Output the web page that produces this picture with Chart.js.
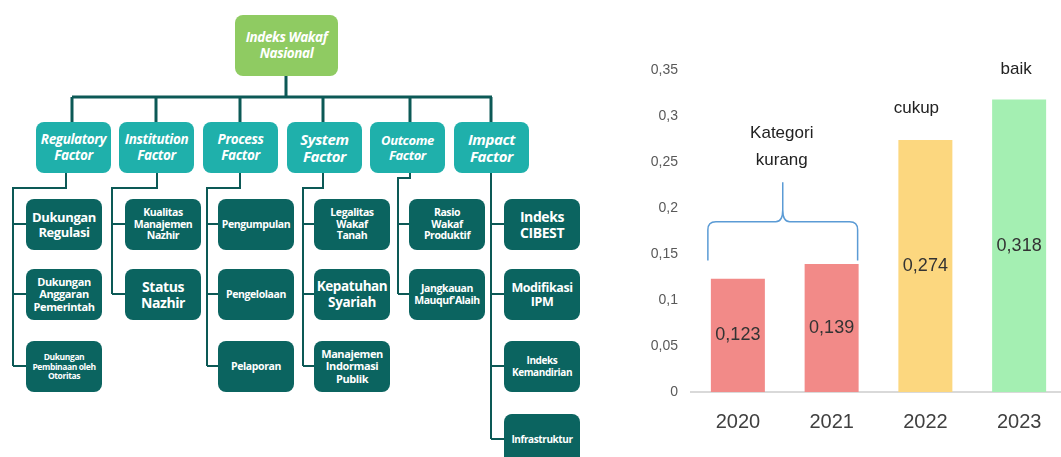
<!DOCTYPE html>
<html>
<head>
<meta charset="utf-8">
<script src="https://cdn.jsdelivr.net/npm/chart.js@4.4.0/dist/chart.umd.min.js"></script>
<style>
  html, body { margin: 0; padding: 0; background: #fff; }
  body { width: 1061px; height: 457px; overflow: hidden; position: relative; }
  #org { position: absolute; left: 0; top: 0; width: 600px; height: 457px; }
  #org svg { position: absolute; left: 0; top: 0; }
  .box {
    position: absolute; display: flex; align-items: center; justify-content: center;
    text-align: center; color: #fff; font-family: "Open Sans", sans-serif; font-weight: 700;
    white-space: pre-line; line-height: 1.12; letter-spacing: -0.4px; border-radius: 8px;
    box-sizing: border-box;
  }
  .root { background: #8fcb62; font-style: italic; font-size: 13.5px; }
  .factor { background: #1fb0ab; font-style: italic; font-size: 13px; }
  .sub { background: #0b6460; }
  #chartBox { position: absolute; left: 600px; top: 0; width: 470px; height: 457px; }
</style>
</head>
<body>
<div id="org"></div>
<div id="chartBox"><canvas id="chartIndeks" width="470" height="457"></canvas></div>
<script>
// Data grafik
const years = ['2020', '2021', '2022', '2023'];
const indexValues = [0.123, 0.139, 0.274, 0.318];
const barColors = ['#f28a88', '#f28a88', '#fcd77f', '#a4efb2'];
const noteTexts = ['Kategori\nkurang', 'cukup', 'baik'];

// Struktur indeks
const rootName = 'Indeks Wakaf\nNasional';
const factorNames = ['Regulatory\nFactor', 'Institution\nFactor', 'Process\nFactor', 'System\nFactor', 'Outcome\nFactor', 'Impact\nFactor'];
const subFactors = [
    ['Dukungan\nRegulasi', 'Dukungan\nAnggaran\nPemerintah', 'Dukungan\nPembinaan oleh\nOtoritas'],
    ['Kualitas\nManajemen\nNazhir', 'Status\nNazhir'],
    ['Pengumpulan', 'Pengelolaan', 'Pelaporan'],
    ['Legalitas\nWakaf\nTanah', 'Kepatuhan\nSyariah', 'Manajemen\nIndormasi\nPublik'],
    ['Rasio\nWakaf\nProduktif', "Jangkauan\nMauquf'Alaih"],
    ['Indeks\nCIBEST', 'Modifikasi\nIPM', 'Indeks\nKemandirian', 'Infrastruktur']
];

// Layout diagram
const factorFont = [13.5, 13.5, 13.5, 15, 13, 15];
const subFont = [
    [13, 11, 8.5],
    [10.5, 14],
    [10.5, 10.5, 10.5],
    [10.5, 13.5, 11],
    [10.5, 10.5],
    [14, 12.5, 10, 10]
];
const factorLeft = [36, 119, 203, 287, 370, 454];
const subLeft = [26, 125, 218, 314, 409, 504];
const rowTop = [199, 269, 341, 414];
const dropX = [72, 156, 240, 323, 410, 491];
const stemX = [66, 157, 240, 323, 410, 491];
const jogY = [188, 188, 188, 188, 178, 188];
const railX = [13, 112, 207, 303, 398, 491];

const org = document.getElementById('org');
function addBox(cls, text, left, top, w, h, size) {
    const d = document.createElement('div');
    d.className = 'box ' + cls;
    d.textContent = text;
    Object.assign(d.style, { left: left + 'px', top: top + 'px', width: w + 'px', height: h + 'px' });
    if (size) d.style.fontSize = size + 'px';
    org.appendChild(d);
}

let paths = '';
paths += `<path d="M286 76 V97 M72 97 H492" stroke-width="3"/>`;
factorNames.forEach((f, i) => {
    paths += `<path d="M${dropX[i]} 97 V122" stroke-width="3"/>`;
    const lastMid = rowTop[subFactors[i].length - 1] + 25;
    paths += `<path d="M${stemX[i]} 173 V${jogY[i]} H${railX[i]} V${lastMid}" stroke-width="2"/>`;
    subFactors[i].forEach((s, r) => {
        paths += `<path d="M${railX[i]} ${rowTop[r] + 25} H${subLeft[i]}" stroke-width="2"/>`;
    });
});
org.innerHTML = `<svg width="600" height="457" fill="none" stroke="#0c5956">${paths}</svg>`;

addBox('root', rootName, 235, 15, 103, 61);
factorNames.forEach((f, i) => {
    addBox('factor', f, factorLeft[i], 122, 75, 51, factorFont[i]);
    subFactors[i].forEach((s, r) => addBox('sub', s, subLeft[i], rowTop[r], 76, 51, subFont[i][r]));
});

// Label nilai + anotasi kategori
const notesPlugin = {
    id: 'notes',
    afterDatasetsDraw(chart) {
        const { ctx, scales: { y } } = chart;
        const bars = chart.getDatasetMeta(0).data;
        ctx.save();
        ctx.textAlign = 'center';
        ctx.textBaseline = 'middle';
        ctx.fillStyle = '#333';
        ctx.font = '18px "Liberation Sans", Arial, sans-serif';
        bars.forEach((b, i) => {
            ctx.fillText(indexValues[i].toFixed(3).replace('.', ','), b.x, (b.y + b.base) / 2);
        });

        ctx.font = '17px "Liberation Sans", Arial, sans-serif';
        ctx.fillStyle = '#222';
        const cx = (bars[0].x + bars[1].x) / 2 - 3;
        const lines = noteTexts[0].split('\n');
        ctx.fillText(lines[0], cx, y.getPixelForValue(0.281));
        ctx.fillText(lines[1], cx, y.getPixelForValue(0.252));
        ctx.fillText(noteTexts[1], bars[2].x - 9, y.getPixelForValue(0.308));
        ctx.fillText(noteTexts[2], bars[3].x - 3, y.getPixelForValue(0.351));

        // kurung kurawal
        const L = bars[0].x - bars[0].width / 2 - 3;
        const R = bars[1].x + bars[1].width / 2 - 1;
        const bot = y.getPixelForValue(0.143);
        const mid = y.getPixelForValue(0.185);
        const top = y.getPixelForValue(0.228);
        const c = cx + 1;
        ctx.strokeStyle = '#5b9bd5';
        ctx.lineWidth = 1.5;
        ctx.beginPath();
        ctx.moveTo(L, bot);
        ctx.lineTo(L, mid + 8);
        ctx.quadraticCurveTo(L, mid, L + 8, mid);
        ctx.lineTo(c - 7, mid);
        ctx.quadraticCurveTo(c, mid, c, mid - 12);
        ctx.lineTo(c, top);
        ctx.moveTo(c, mid - 12);
        ctx.quadraticCurveTo(c, mid, c + 7, mid);
        ctx.lineTo(R - 8, mid);
        ctx.quadraticCurveTo(R, mid, R, mid + 8);
        ctx.lineTo(R, bot);
        ctx.stroke();
        ctx.restore();
    }
};

const ctxIndeks = document.getElementById('chartIndeks').getContext('2d');
new Chart(ctxIndeks, {
    type: 'bar',
    data: {
        labels: years,
        datasets: [{
            data: indexValues,
            backgroundColor: barColors,
            barPercentage: 0.576,
            categoryPercentage: 1
        }]
    },
    options: {
        responsive: false,
        animation: false,
        layout: { padding: { top: 70, right: 4, left: 0, bottom: 0 } },
        plugins: { legend: { display: false }, tooltip: { enabled: false } },
        scales: {
            x: {
                grid: { display: false, drawTicks: false },
                border: { display: true, color: '#d9d9d9', width: 2 },
                ticks: { color: '#404040', padding: 18, font: { family: '"Liberation Sans", Arial', size: 20 } },
                afterFit: s => { s.height = 65; }
            },
            y: {
                min: 0,
                max: 0.35,
                grid: { display: false, drawTicks: false },
                border: { display: false },
                ticks: {
                    stepSize: 0.05,
                    padding: 13,
                    color: '#595959',
                    font: { family: '"Liberation Sans", Arial', size: 14 },
                    callback: v => String(Math.round(v * 100) / 100).replace('.', ',')
                },
                afterFit: s => { s.width = 91; }
            }
        }
    },
    plugins: [notesPlugin]
});
</script>
</body>
</html>
